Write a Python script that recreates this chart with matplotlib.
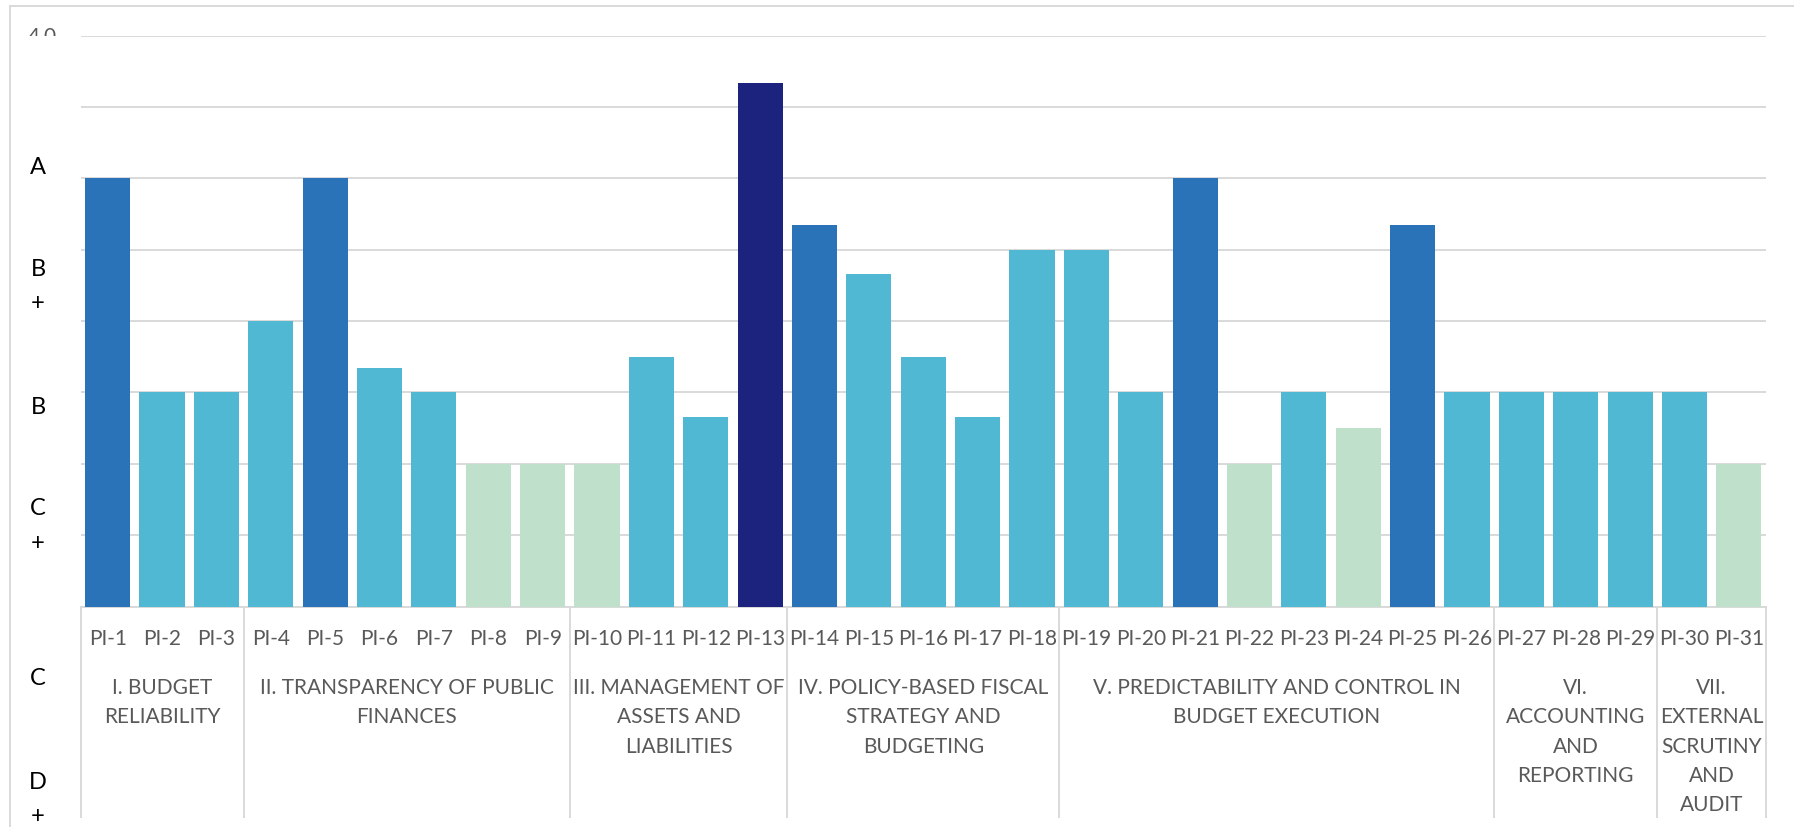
import matplotlib
matplotlib.use("Agg")
import matplotlib.pyplot as plt
from matplotlib.transforms import Bbox, blended_transform_factory
from matplotlib.lines import Line2D
import numpy as np

plt.rcParams['font.family'] = ['Lato', 'DejaVu Sans']

# ---------------- data ----------------
pi_labels = ["PI-1", "PI-2", "PI-3", "PI-4", "PI-5", "PI-6", "PI-7", "PI-8", "PI-9",
             "PI-10", "PI-11", "PI-12", "PI-13", "PI-14", "PI-15", "PI-16", "PI-17",
             "PI-18", "PI-19", "PI-20", "PI-21", "PI-22", "PI-23", "PI-24", "PI-25",
             "PI-26", "PI-27", "PI-28", "PI-29", "PI-30", "PI-31"]
scores = [3.0, 1.5, 1.5, 2.0, 3.0, 1.67, 1.5, 1.0, 1.0,
          1.0, 1.75, 1.33, 3.67,
          2.67, 2.33, 1.75, 1.33, 2.5,
          2.5, 1.5, 3.0, 1.0, 1.5, 1.25, 2.67, 1.5,
          1.5, 1.5, 1.5,
          1.5, 1.0]
group_names = ["I. BUDGET\nRELIABILITY",
               "II. TRANSPARENCY OF PUBLIC\nFINANCES",
               "III. MANAGEMENT OF\nASSETS AND\nLIABILITIES",
               "IV. POLICY-BASED FISCAL\nSTRATEGY AND\nBUDGETING",
               "V. PREDICTABILITY AND CONTROL IN\nBUDGET EXECUTION",
               "VI.\nACCOUNTING\nAND\nREPORTING",
               "VII.\nEXTERNAL\nSCRUTINY\nAND\nAUDIT"]
group_sizes = [3, 6, 4, 5, 8, 3, 2]
grade_labels = ["A", "B\n+", "B", "C\n+", "C", "D\n+"]
top_tick_label = "4.0"

# ---------------- layout / style ----------------
W, H = 1794, 828
L, R, T, B = 80.5, 1766, 36.6, 607.5
grade_label_px = [168, 269, 408, 509, 679, 783]

NAVY, BLUE, TEAL, PALE = "#1b237e", "#2a73b9", "#50b8d2", "#bfe1cb"
GRID = "#d9d9d9"
TXT = "#595959"
FS = 15


def bar_color(v):
    if v >= 3.5:
        return NAVY
    if v >= 2.6:
        return BLUE
    if v >= 1.3:
        return TEAL
    return PALE


fig = plt.figure(figsize=(W / 100, H / 100), dpi=100)
ax = fig.add_axes([L / W, 1 - B / H, (R - L) / W, (B - T) / H])

x = np.arange(len(pi_labels))
ax.bar(x, scores, width=0.83, color=[bar_color(v) for v in scores], zorder=3)
ax.set_xlim(-0.5, len(pi_labels) - 0.5)
ax.set_ylim(0, 4)
ax.set_yticks(np.arange(0, 4.01, 0.5))
ax.yaxis.grid(True, color=GRID, lw=1.4)
ax.set_axisbelow(True)
ax.tick_params(axis='y', length=0, labelleft=False)
for s in ["left", "right", "top"]:
    ax.spines[s].set_visible(False)
ax.spines["bottom"].set_color(GRID)
ax.spines["bottom"].set_linewidth(1.4)

trans = blended_transform_factory(ax.transData, ax.transAxes)
ah = B - T
def px_to_axes(ypx):
    return (B - ypx) / ah

# category (PI) labels
ax.set_xticks(x, [])
ax.tick_params(axis='x', length=0)
for xi, lab in zip(x, pi_labels):
    ax.text(xi, px_to_axes(639), lab, transform=trans, ha='center', va='center',
            fontsize=FS, color=TXT, clip_on=False)

# separators
bounds = np.concatenate([[0], np.cumsum(group_sizes)]) - 0.5
for b in bounds:
    ax.plot([b, b], [0, px_to_axes(818)], transform=trans, clip_on=False,
            color=GRID, lw=1.4)

# group labels
start = 0
for name, size in zip(group_names, group_sizes):
    c = start + size / 2 - 0.5
    for i, line in enumerate(name.split("\n")):
        ax.text(c, px_to_axes(688 + i * 29.3), line, transform=trans,
                ha='center', va='center', fontsize=FS, color=TXT, clip_on=False)
    start += size

# grade labels on the left
for lab, ypx in zip(grade_labels, grade_label_px):
    for i, line in enumerate(lab.split("\n")):
        fig.text(38 / W, 1 - (ypx + i * 34) / H, line, ha='center', va='center',
                 fontsize=17, color='black')

# clipped top tick label
t = fig.text(42 / W, 1 - T / H, top_tick_label, ha='center', va='center',
             fontsize=FS, color=TXT)
t.set_clip_box(Bbox.from_extents(0, H - 37, W, H))
t.set_clip_on(True)

# outer chart border
fig.add_artist(Line2D([10 / W, 10 / W], [0, 1 - 7 / H], transform=fig.transFigure,
                      color=GRID, lw=1.4))
fig.add_artist(Line2D([10 / W, 1], [1 - 7 / H, 1 - 7 / H], transform=fig.transFigure,
                      color=GRID, lw=1.4))

fig.savefig("out.png", dpi=100)
